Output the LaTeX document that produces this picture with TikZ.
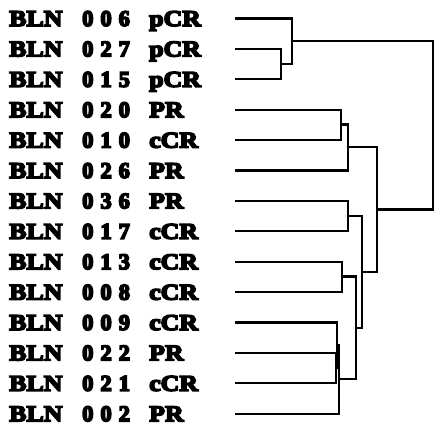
\documentclass[tikz,border=0pt]{standalone}
\usepackage{fontspec}
\newfontfamily\lblfont{Liberation Serif}[UprightFont=* Bold, FakeStretch=1.15]
\newfontfamily\numfont{Liberation Serif}[UprightFont=* Bold]
% fill and stroke the glyph outlines for a heavier face
\newcommand\heavy[1]{\special{pdf:code 2 Tr 1.6 w}#1\special{pdf:code 0 Tr}}
% three digits set apart from each other
\newcommand\threedig[3]{#1\hspace{7pt}#2\hspace{7pt}#3}
\begin{document}
\begin{tikzpicture}[x=1pt,y=-1pt,
  lbl/.style={inner sep=0pt, anchor=west, text height=15pt, text depth=0pt,
    font=\lblfont\fontsize{22.5}{22.5}\selectfont},
  numlbl/.style={lbl, font=\numfont\fontsize{22.5}{22.5}\selectfont},
  branch/.style={line width=2.2pt}]
\useasboundingbox (0,0) rectangle (437,429);

% sample labels and the start of each leaf line
\foreach \i/\num/\resp in {1/006/pCR,2/027/pCR,3/015/pCR,4/020/PR,5/010/cCR,
    6/026/PR,7/036/PR,8/017/cCR,9/013/cCR,10/008/cCR,11/009/cCR,12/022/PR,
    13/021/cCR,14/002/PR}{
  \pgfmathsetmacro\yy{18.5+(\i-1)*30.4}
  \node[lbl] (b\i) at (9,\yy) {\heavy{BLN}};
  \node[numlbl] (n\i) at (82,\yy) {\heavy{\expandafter\threedig\num}};
  \node[lbl] (r\i) at (149,\yy) {\heavy{\resp}};
  \coordinate (s\i) at (235,\yy);
}

% merge points of the dendrogram
\coordinate (mA) at (281,63.6);
\coordinate (mB) at (292,40.8);
\coordinate (mC) at (341,124.4);
\coordinate (mD) at (348,147.2);
\coordinate (mE) at (348,215.6);
\coordinate (mF) at (342,276.4);
\coordinate (mH) at (336,367.6);
\coordinate (mI) at (337,344.8);
\coordinate (mG) at (339,379);
\coordinate (mJ) at (356,327.7);
\coordinate (mK) at (362,271.6);
\coordinate (mL) at (377,209.4);
\coordinate (mR) at (433,125);

\draw[branch] (s2) -| (mA) |- (s3);
\draw[branch] (s1) -| (mB) |- (mA);
\draw[branch] (s4) -| (mC) |- (s5);
\draw[branch] (mC) -| (mD) |- (s6);
\draw[branch] (s7) -| (mE) |- (s8);
\draw[branch] (s9) -| (mF) |- (s10);
\draw[branch] (s12) -| (mH) |- (s13);
\draw[branch] (s11) -| (mI) |- (mH);
\draw[branch] (mI) -| (mG) |- (s14);
\draw[branch] (mF) -| (mJ) |- (mG);
\draw[branch] (mE) -| (mK) |- (mJ);
\draw[branch] (mD) -| (mL) |- (mK);
\draw[branch] (mB) -| (mR) |- (mL);
\end{tikzpicture}
\end{document}
